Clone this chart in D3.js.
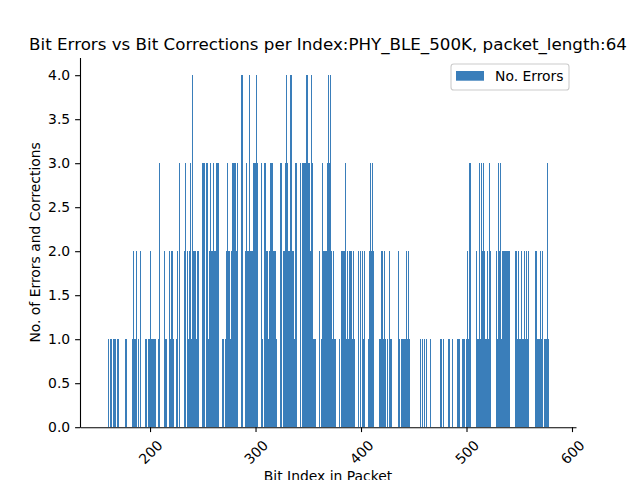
<!DOCTYPE html>
<html>
<head>
<meta charset="utf-8">
<script src="https://cdn.jsdelivr.net/npm/d3@7"></script>
<style>
  body { margin: 0; background: #fff; }
  svg { font-family: "DejaVu Sans", sans-serif; }
</style>
</head>
<body>
<svg width="640" height="480"></svg>
<script>
// error count per bit index (first bar at index 160)
var firstIndex = 160;
var errorCounts = [
  0,1,1,1,0,1,1,1,0,1,1,0,0,0,0,0,0,1,1,0,   // 160
  0,0,0,1,2,1,1,2,0,1,0,2,0,0,0,0,1,1,1,1,   // 180
  2,1,1,1,1,1,0,0,1,3,0,0,0,0,2,1,1,0,2,1,   // 200
  2,2,1,0,0,1,2,0,3,0,0,0,0,2,3,2,1,2,3,1,   // 220
  4,2,2,2,1,2,2,0,0,0,3,3,3,3,3,1,2,3,2,2,   // 240
  3,2,2,3,3,3,0,0,0,1,1,1,2,3,2,2,1,2,3,3,   // 260
  3,3,2,3,0,0,0,4,4,0,2,3,2,2,4,2,2,2,3,3,   // 280
  3,4,3,0,0,0,3,1,3,3,2,2,1,2,3,3,3,2,2,2,   // 300
  1,0,0,0,3,3,2,2,3,4,3,2,2,4,4,2,2,1,3,3,   // 320
  0,0,0,3,3,3,3,3,4,4,3,3,2,4,3,1,1,1,0,0,   // 340
  0,2,1,3,2,2,2,2,3,4,3,4,2,1,2,1,1,0,0,0,   // 360
  1,2,2,2,2,3,1,2,1,2,2,2,1,2,1,0,0,0,2,2,   // 380
  0,2,1,2,0,0,0,1,2,3,2,3,2,0,0,0,0,1,1,2,   // 400
  2,1,2,1,0,1,0,2,1,1,0,0,0,0,0,2,1,0,1,1,   // 420
  1,1,1,2,1,2,1,0,0,0,0,0,0,0,0,0,1,0,1,0,   // 440
  1,0,1,0,0,0,1,0,0,0,0,0,0,0,0,1,1,0,1,0,   // 460
  0,0,0,1,1,0,0,1,0,0,0,1,1,1,0,0,1,1,1,0,   // 480
  1,2,1,3,3,0,0,0,0,2,1,1,3,1,3,2,3,2,1,1,   // 500
  2,1,3,2,0,0,0,0,2,1,3,2,3,1,2,2,2,2,2,2,   // 520
  2,2,0,0,0,0,2,2,1,2,1,1,2,1,1,2,1,2,1,2,   // 540
  0,0,0,0,0,2,2,1,1,1,2,1,2,0,1,1,1,3,1      // 560
];
var xLimits = [133.6, 603.8];
var yLimits = [0, 4.2];
var xTicks = [200, 300, 400, 500, 600];
var yTicks = [0, 0.5, 1, 1.5, 2, 2.5, 3, 3.5, 4];

var bars = errorCounts.map((v, i) => ({'index': firstIndex + i, 'value': v}))
                      .filter(d => d.value > 0);

// axes box in pixels (matplotlib default subplot)
var axL = 80, axR = 576, axT = 57.6, axB = 427.2;
var barColor = '#3a7eba';

var svg = d3.select('svg');
var x = d3.scaleLinear().domain(xLimits).range([axL, axR]);
var y = d3.scaleLinear().domain(yLimits).range([axB, axT]);

// bars, width 0.8 like matplotlib, snapped to whole pixels like Agg does
var bx0 = d => Math.round(x(d.index - 0.4));
var bw = d => Math.max(1, Math.round(x(d.index + 0.4)) - bx0(d));

svg.append('g')
   .attr('shape-rendering', 'crispEdges')
   .selectAll('rect')
   .data(bars)
   .enter()
   .append('rect')
   .attr('x', bx0)
   .attr('width', bw)
   .attr('y', d => Math.round(y(d.value)))
   .attr('height', d => Math.round(y(0)) - Math.round(y(d.value)))
   .attr('fill', barColor);

// axes
var yAxis = svg.append('g')
   .attr('transform', `translate(${axL},0)`)
   .call(d3.axisLeft(y).tickValues(yTicks).tickFormat(d3.format('.1f'))
         .tickSize(4.9).tickPadding(4.9).tickSizeOuter(0));

var xAxis = svg.append('g')
   .attr('transform', `translate(0,${axB})`)
   .call(d3.axisBottom(x).tickValues(xTicks).tickFormat(d3.format('d'))
         .tickSize(4.9).tickPadding(4.9).tickSizeOuter(0));

svg.selectAll('.domain').attr('stroke', '#000').attr('stroke-width', 1.1);
svg.selectAll('.tick line').attr('stroke', '#000').attr('stroke-width', 1.1);
svg.selectAll('.tick text').attr('fill', '#000').style('font-size', '13.9px')
   .style('font-family', '"DejaVu Sans", sans-serif');

// rotated x labels (45 deg, centred under the tick)
xAxis.selectAll('.tick text')
   .attr('dy', null)
   .attr('y', null)
   .attr('text-anchor', 'middle')
   .attr('dominant-baseline', 'central')
   .attr('transform', 'translate(0,24.8) rotate(-45)');

// title and labels
svg.append('text')
   .attr('x', (axL + axR) / 2)
   .attr('y', 49.5)
   .attr('text-anchor', 'middle')
   .style('font-size', '16.7px')
   .text('Bit Errors vs Bit Corrections per Index:PHY_BLE_500K, packet_length:64');

svg.append('text')
   .attr('x', (axL + axR) / 2)
   .attr('y', 471)
   .attr('text-anchor', 'middle')
   .attr('dominant-baseline', 'hanging')
   .style('font-size', '13.9px')
   .text('Bit Index in Packet');

svg.append('text')
   .attr('transform', `translate(40,${(axT + axB) / 2}) rotate(-90)`)
   .attr('text-anchor', 'middle')
   .style('font-size', '13.9px')
   .text('No. of Errors and Corrections');

// legend
var lg = svg.append('g');
lg.append('rect')
  .attr('x', 451).attr('y', 64).attr('width', 118).attr('height', 26)
  .attr('rx', 2.8)
  .attr('fill', '#fff').attr('fill-opacity', 0.8)
  .attr('stroke', '#cccccc').attr('stroke-width', 1.1);
lg.append('rect')
  .attr('x', 456).attr('y', 71).attr('width', 28).attr('height', 9.7)
  .attr('fill', barColor);
lg.append('text')
  .attr('x', 495).attr('y', 76)
  .attr('dominant-baseline', 'central')
  .style('font-size', '13.9px')
  .text('No. Errors');
</script>
</body>
</html>
